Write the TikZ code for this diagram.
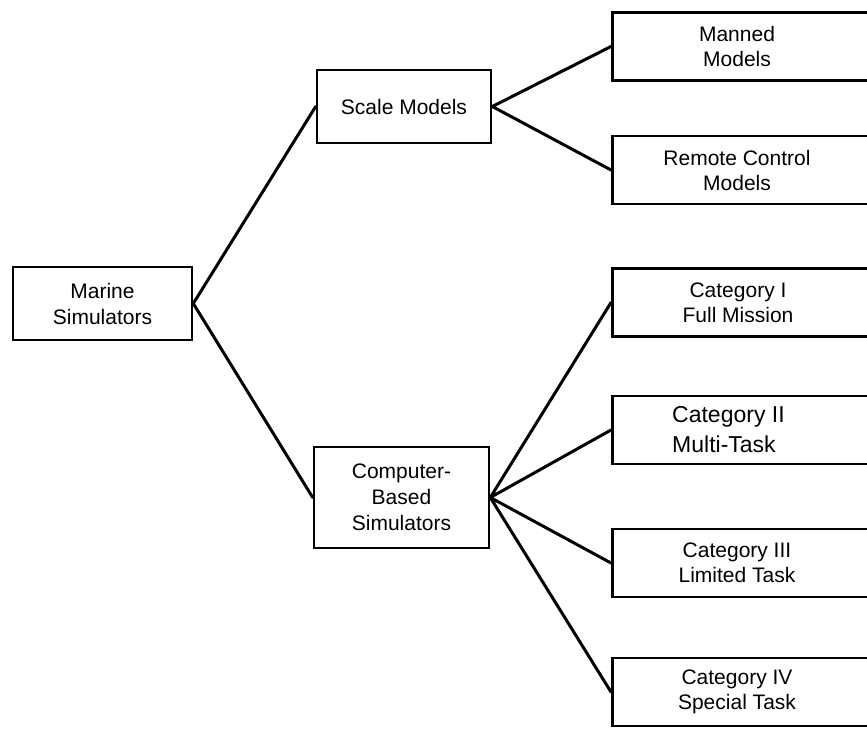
\documentclass[tikz,border=0pt]{standalone}
\usepackage{fontspec}
\setmainfont{Liberation Sans}
\begin{document}
\begin{tikzpicture}[x=1pt,y=-1pt,
  box/.style={draw,line width=2.6pt,rectangle,inner sep=0pt,align=center,
    font=\fontsize{21}{26}\selectfont},
  rbox/.style={draw,line width=2.6pt,rectangle,inner sep=0pt,anchor=west,
    minimum width=280pt,minimum height=68pt},
  rtext/.style={align=center,inner sep=0pt,font=\fontsize{21}{25}\selectfont},
  conn/.style={line width=3pt,line cap=round,line join=round}]
\useasboundingbox (0,0) rectangle (867,728);
\clip (0,0) rectangle (867,728);
% middle and left boxes
\node[box,minimum width=179pt,minimum height=73pt] (ms) at (102.5,303.5) {Marine\\Simulators};
\node[box,minimum width=174pt,minimum height=73pt] (sm) at (404,106.5) {Scale Models};
\node[box,minimum width=175pt,minimum height=101pt] (cb) at (401.5,497.5) {Computer-\\Based\\Simulators};
% right boxes
\node[rbox] (mm) at (611,46.5) {};
\node[rbox] (rc) at (611,170) {};
\node[rbox] (c1) at (611,302.5) {};
\node[rbox] (c2) at (611,430) {};
\node[rbox] (c3) at (611,563) {};
\node[rbox] (c4) at (611,692) {};
\node[rtext] (mmt) at (737,46.5) {Manned\\Models};
\node[rtext] (rct) at (737,170) {Remote Control\\Models};
\node[rtext] (c1t) at (738,302.5) {Category I\\Full Mission};
\node[rtext,anchor=west,align=left,font=\fontsize{23}{30}\selectfont] (c2t) at (672,430) {Category II\\Multi-Task};
\node[rtext] (c3t) at (737,563) {Category III\\Limited Task};
\node[rtext] (c4t) at (737,692) {Category IV\\Special Task};
% connectors
\draw[conn] (sm.west) -- (ms.east) -- (cb.west);
\draw[conn] (mm.west) -- (sm.east) -- (rc.west);
\draw[conn] (c1.west) -- (cb.east) -- (c2.west);
\draw[conn] (c3.west) -- (cb.east) -- (c4.west);
\end{tikzpicture}
\end{document}
